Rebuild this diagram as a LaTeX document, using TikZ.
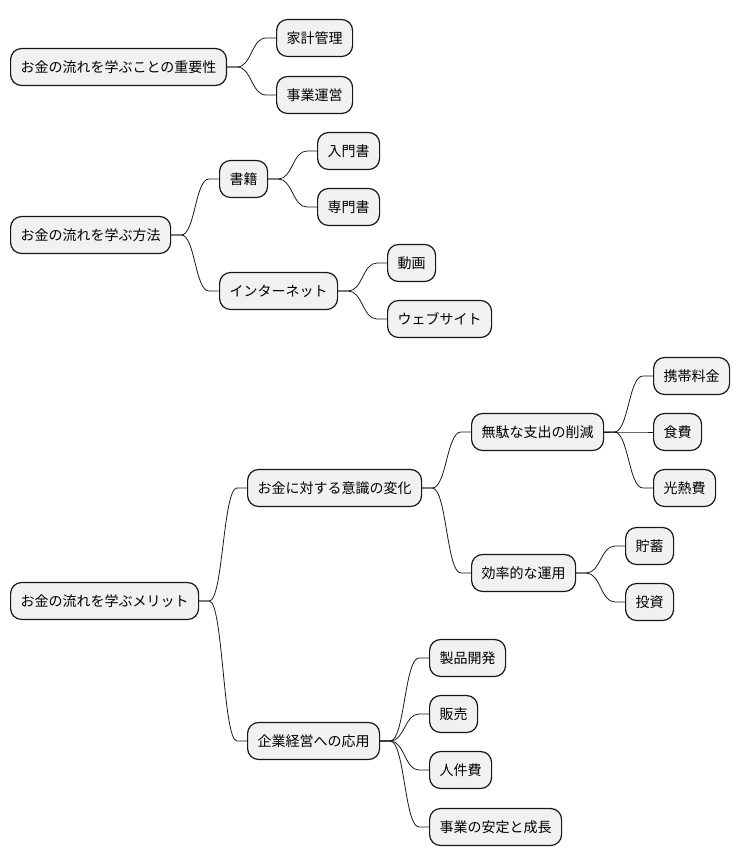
\documentclass[tikz,border=0pt]{standalone}
\usepackage{fontspec}
\setmainfont{Noto Sans CJK JP}
\usepackage{xcolor}
\usepackage{tikz}
\usetikzlibrary{calc}
\definecolor{mmFill}{HTML}{F1F1F1}
\definecolor{mmLine}{HTML}{181818}
\tikzstyle{mmText} = [
    text=black,
    font=\fontsize{14}{16}\selectfont
]
\tikzstyle{mmNode} = [
    rectangle,
    mmText,
    rounded corners=11pt,
    draw=mmLine,
    fill=mmFill,
    line width=1.2pt,
    inner xsep=10pt,
    minimum height=37pt,
    anchor=west
]
\tikzstyle{mmLink} = [
    draw=mmLine,
    line width=0.8pt
]

\begin{document}
\begin{tikzpicture}[x=1pt, y=-1pt]

    \useasboundingbox (0,0) rectangle (740,865);

    % first tree
    \node[mmNode] (imp) at (10,67) {お金の流れを学ぶことの重要性};
    \node[mmNode] (kakei) at (276,38) {家計管理};
    \node[mmNode] (jigyo) at (276,95) {事業運営};

    % second tree
    \node[mmNode] (howto) at (10,235) {お金の流れを学ぶ方法};
    \node[mmNode] (books) at (219,179) {書籍};
    \node[mmNode] (intro) at (317,151) {入門書};
    \node[mmNode] (expert) at (317,207) {専門書};
    \node[mmNode] (net) at (219,291) {インターネット};
    \node[mmNode] (video) at (387,263) {動画};
    \node[mmNode] (web) at (387,319) {ウェブサイト};

    % third tree
    \node[mmNode] (merit) at (10,601) {お金の流れを学ぶメリット};
    \node[mmNode] (mind) at (247,488) {お金に対する意識の変化};
    \node[mmNode] (cut) at (471,432) {無駄な支出の削減};
    \node[mmNode] (phone) at (653,376) {携帯料金};
    \node[mmNode] (food) at (653,432) {食費};
    \node[mmNode] (util) at (653,488) {光熱費};
    \node[mmNode] (use) at (471,573) {効率的な運用};
    \node[mmNode] (save) at (625,546) {貯蓄};
    \node[mmNode] (invest) at (625,602) {投資};
    \node[mmNode] (biz) at (247,741) {企業経営への応用};
    \node[mmNode] (dev) at (429,658) {製品開発};
    \node[mmNode] (sales) at (429,714) {販売};
    \node[mmNode] (staff) at (429,770) {人件費};
    \node[mmNode] (grow) at (429,827) {事業の安定と成長};

    % branches
    \foreach \p/\c in {imp/kakei, imp/jigyo,
            howto/books, howto/net, books/intro, books/expert,
            net/video, net/web,
            merit/mind, merit/biz, mind/cut, mind/use,
            cut/phone, cut/food, cut/util, use/save, use/invest,
            biz/dev, biz/sales, biz/staff, biz/grow} {
        \coordinate (s) at ($(\p.east)+(10,0)$);
        \coordinate (e) at ($(\c.west)+(-10,0)$);
        \coordinate (m) at ($(s)!0.5!(e)$);
        \draw[mmLink] (\p.east) -- (s)
            .. controls (m |- s) and (m |- e) .. (e) -- (\c.west);
    }

\end{tikzpicture}
\end{document}
